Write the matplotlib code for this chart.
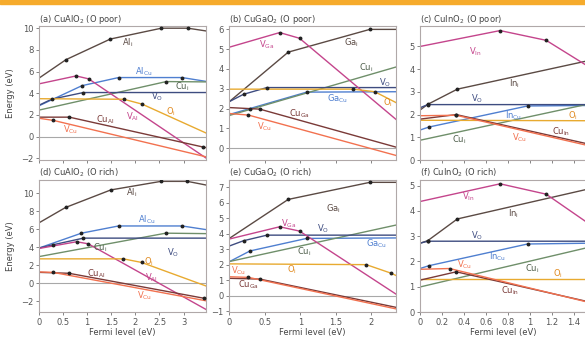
import matplotlib.pyplot as plt
from matplotlib.patches import Rectangle

# kink points (Fermi level, formation energy) for each defect, per panel
a_lines = {
    'host_i': ([0, 0.56, 1.48, 2.54, 3.09, 3.46], [5.4, 7.1, 9.0, 10.0, 10.0, 9.75]),
    'host_cu': ([0, 0.89, 1.65, 2.97, 3.46], [2.85, 4.7, 5.45, 5.45, 5.1]),
    'cu_i': ([0, 2.64, 3.46], [2.45, 5.08, 5.05]),
    'v_o': ([0, 0.26, 0.92, 3.46], [2.9, 3.45, 4.07, 4.07]),
    'v_m': ([0, 0.77, 1.03, 3.46], [4.87, 5.6, 5.33, -1.95]),
    'o_i': ([0, 1.76, 2.14, 3.46], [3.5, 3.45, 3.0, 0.35]),
    'cu_m': ([0, 0.63, 3.4, 3.46], [1.8, 1.8, -0.95, -1.0]),
    'v_cu': ([0, 0.3, 3.46], [1.7, 1.5, -1.85]),
}
b_lines = {
    'host_i': ([0, 0.83, 1.98, 2.35], [2.35, 4.85, 6.0, 6.0]),
    'host_cu': ([0, 0.29, 1.09, 2.35], [1.7, 2.0, 2.83, 2.85]),
    'cu_i': ([0, 2.35], [1.65, 4.1]),
    'v_o': ([0, 0.2, 0.53, 2.35], [2.35, 2.72, 3.06, 3.06]),
    'v_m': ([0, 0.71, 0.99, 2.35], [5.1, 5.84, 5.55, 1.45]),
    'o_i': ([0, 1.75, 2.05, 2.35], [2.98, 2.98, 2.85, 2.3]),
    'cu_m': ([0, 0.43, 2.35], [2.05, 1.97, 0.05]),
    'v_cu': ([0, 0.27, 2.35], [1.75, 1.67, -0.37]),
}
c_lines = {
    'host_i': ([0, 0.07, 0.34, 1.52], [2.2, 2.45, 3.12, 4.36]),
    'host_cu': ([0, 0.08, 0.98, 1.52], [1.32, 1.45, 2.38, 2.4]),
    'cu_i': ([0, 1.52], [0.87, 2.45]),
    'v_o': ([0, 0.07, 1.52], [2.3, 2.44, 2.44]),
    'v_m': ([0, 0.73, 1.15, 1.52], [5.0, 5.7, 5.27, 4.16]),
    'o_i': ([0, 1.52], [1.75, 1.73]),
    'cu_m': ([0, 0.33, 1.52], [1.8, 2.0, 0.72]),
    'v_cu': ([0, 0.33, 1.52], [1.95, 1.97, 0.65]),
}
d_lines = {
    'host_i': ([0, 0.55, 1.49, 2.53, 3.08, 3.46], [6.7, 8.4, 10.35, 11.3, 11.3, 10.9]),
    'host_cu': ([0, 0.88, 1.65, 2.97, 3.46], [3.9, 5.55, 6.35, 6.35, 5.95]),
    'cu_i': ([0, 2.63, 3.46], [2.95, 5.55, 5.5]),
    'v_o': ([0, 0.29, 0.92, 3.46], [3.9, 4.26, 5.0, 5.0]),
    'v_m': ([0, 0.78, 1.02, 3.46], [3.85, 4.6, 4.37, -2.9]),
    'o_i': ([0, 1.75, 2.13, 3.46], [2.7, 2.7, 2.3, -0.3]),
    'cu_m': ([0, 0.62, 3.42, 3.46], [1.2, 1.1, -1.67, -1.7]),
    'v_cu': ([0, 0.29, 3.46], [1.25, 1.2, -1.95]),
}
e_lines = {
    'host_i': ([0, 0.83, 1.98, 2.35], [3.69, 6.2, 7.3, 7.3]),
    'host_cu': ([0, 0.29, 1.09, 2.35], [2.19, 2.88, 3.69, 3.72]),
    'cu_i': ([0, 2.35], [2.2, 4.55]),
    'v_o': ([0, 0.2, 0.53, 2.35], [3.2, 3.54, 3.9, 3.9]),
    'v_m': ([0, 0.71, 0.99, 2.35], [3.65, 4.44, 4.16, 0.1]),
    'o_i': ([0, 1.93, 2.28, 2.35], [2.05, 2.0, 1.45, 1.3]),
    'cu_m': ([0, 0.43, 2.35], [1.12, 1.07, -0.75]),
    'v_cu': ([0, 0.27, 2.35], [1.22, 1.18, -0.85]),
}
f_lines = {
    'host_i': ([0, 0.07, 0.34, 1.52], [2.72, 2.82, 3.68, 4.85]),
    'host_cu': ([0, 0.08, 0.98, 1.52], [1.72, 1.83, 2.69, 2.72]),
    'cu_i': ([0, 1.52], [0.99, 2.54]),
    'v_o': ([0, 0.07, 1.52], [2.72, 2.8, 2.8]),
    'v_m': ([0, 0.73, 1.15, 1.52], [4.37, 5.07, 4.66, 3.55]),
    'o_i': ([0, 1.52], [1.3, 1.3]),
    'cu_m': ([0, 0.33, 1.52], [1.26, 1.59, 0.42]),
    'v_cu': ([0, 0.27, 1.52], [1.69, 1.72, 0.4]),
}

# where each defect name is written
a_text = {'host_i': (1.83, 8.65), 'host_cu': (2.17, 6.0), 'cu_i': (2.97, 4.6), 'v_o': (2.45, 3.7),
          'o_i': (2.73, 2.3), 'v_m': (1.93, 1.8), 'cu_m': (1.37, 1.55), 'v_cu': (0.65, 0.6)}
b_text = {'host_i': (1.72, 5.33), 'host_cu': (1.53, 2.5), 'cu_i': (1.93, 4.08), 'v_o': (2.2, 3.3),
          'o_i': (2.23, 2.28), 'v_m': (0.53, 5.24), 'cu_m': (0.99, 1.75), 'v_cu': (0.5, 1.07)}
c_text = {'host_i': (0.86, 3.38), 'host_cu': (0.85, 1.97), 'cu_i': (0.36, 0.89), 'v_o': (0.52, 2.71),
          'o_i': (1.39, 1.97), 'v_m': (0.5, 4.78), 'cu_m': (1.29, 1.23), 'v_cu': (0.91, 1.0)}
d_text = {'host_i': (1.92, 10.0), 'host_cu': (2.24, 7.0), 'cu_i': (1.26, 3.9), 'v_o': (2.79, 3.33),
          'o_i': (2.27, 2.4), 'v_m': (2.34, 0.55), 'cu_m': (1.19, 1.1), 'v_cu': (2.18, -1.37)}
e_text = {'host_i': (1.46, 5.62), 'host_cu': (2.07, 3.37), 'cu_i': (1.06, 2.83), 'v_o': (1.32, 4.33),
          'o_i': (0.88, 1.65), 'v_m': (0.84, 4.66), 'cu_m': (0.27, 0.69), 'v_cu': (0.13, 1.59)}
f_text = {'host_i': (0.85, 3.9), 'host_cu': (0.71, 2.18), 'cu_i': (1.02, 1.72), 'v_o': (0.52, 3.02),
          'o_i': (1.26, 1.52), 'v_m': (0.44, 4.56), 'cu_m': (0.82, 0.86), 'v_cu': (0.41, 1.85)}

titles = ['(a) CuAlO$_2$ (O poor)', '(b) CuGaO$_2$ (O poor)', '(c) CuInO$_2$ (O poor)',
          '(d) CuAlO$_2$ (O rich)', '(e) CuGaO$_2$ (O rich)', '(f) CuInO$_2$ (O rich)']
metals = ['Al', 'Ga', 'In', 'Al', 'Ga', 'In']
xlims = [3.46, 2.35, 1.52, 3.46, 2.35, 1.52]
ylims = [(-2.15, 10.2), (-0.6, 6.17), (0, 5.9), (-3.2, 11.45), (-1.05, 7.45), (0, 5.22)]
xticks = [[0, 0.5, 1, 1.5, 2, 2.5, 3], [0, 0.5, 1, 1.5, 2], [0, 0.2, 0.4, 0.6, 0.8, 1, 1.2, 1.4]]
yticks = [range(-2, 11, 2), range(0, 7), range(0, 6), range(-2, 11, 2), range(-1, 8), range(0, 6)]

colors = {'host_i': '#5b4a44', 'host_cu': '#4f7fd0', 'cu_i': '#6f8f6a', 'v_o': '#3e4c80',
          'v_m': '#c4458c', 'o_i': '#e8aa30', 'cu_m': '#7a3a38', 'v_cu': '#f2714f'}
text_colors = dict(colors, o_i='#e08a20', cu_i='#4f5f4c')


def name(key, m):
    return {'host_i': m + r'$_\mathrm{i}$', 'host_cu': m + r'$_\mathrm{Cu}$',
            'cu_i': r'Cu$_\mathrm{i}$', 'v_o': r'V$_\mathrm{O}$',
            'v_m': r'V$_\mathrm{' + m + '}$', 'o_i': r'O$_\mathrm{i}$',
            'cu_m': r'Cu$_\mathrm{' + m + '}$', 'v_cu': r'V$_\mathrm{Cu}$'}[key]


fig = plt.figure(figsize=(5.85, 3.38), dpi=100)
fig.patches.append(Rectangle((0, 1 - 4 / 338), 1, 4 / 338, transform=fig.transFigure,
                             color='#f6ab2c', zorder=0))

lefts = [0.0667, 0.392, 0.718]
bottoms = [0.5266, 0.0769]
heights = [0.3964, 0.3905]
all_lines = [a_lines, b_lines, c_lines, d_lines, e_lines, f_lines]
all_text = [a_text, b_text, c_text, d_text, e_text, f_text]

for i in range(6):
    row, col = divmod(i, 3)
    ax = fig.add_axes([lefts[col], bottoms[row], 0.285, heights[row]])
    ax.axhline(0, color='#a8a8a8', lw=0.8, zorder=1)
    for key, (xs, ys) in all_lines[i].items():
        ax.plot(xs, ys, color=colors[key], lw=1.0, zorder=2)
        ax.plot(xs[1:-1], ys[1:-1], 'o', color='#222222', ms=1.8, zorder=3)
        tx, ty = all_text[i][key]
        ax.text(tx, ty, name(key, metals[i]), color=text_colors[key], fontsize=6,
                ha='center', va='center')
    ax.set_xlim(0, xlims[i])
    ax.set_ylim(*ylims[i])
    ax.set_xticks(xticks[col])
    ax.set_yticks(list(yticks[i]))
    if row == 0:
        ax.set_xticklabels([])
    else:
        ax.set_xticklabels([f'{t:g}' for t in xticks[col]])
        ax.set_xlabel('Fermi level (eV)', fontsize=6, color='#444444', labelpad=1)
    ax.tick_params(labelsize=6, colors='#555555', length=2, width=0.5, pad=2)
    for s in ax.spines.values():
        s.set_color('#b0a8a8')
        s.set_linewidth(0.8)
    ax.set_title(titles[i], loc='left', fontsize=6, color='#444444', pad=3)

fig.text(0.018, bottoms[0] + heights[0] / 2, 'Energy (eV)', rotation=90, fontsize=6,
         color='#444444', ha='center', va='center')
fig.text(0.018, bottoms[1] + heights[1] / 2, 'Energy (eV)', rotation=90, fontsize=6,
         color='#444444', ha='center', va='center')

fig.savefig('out.png', dpi=100)
